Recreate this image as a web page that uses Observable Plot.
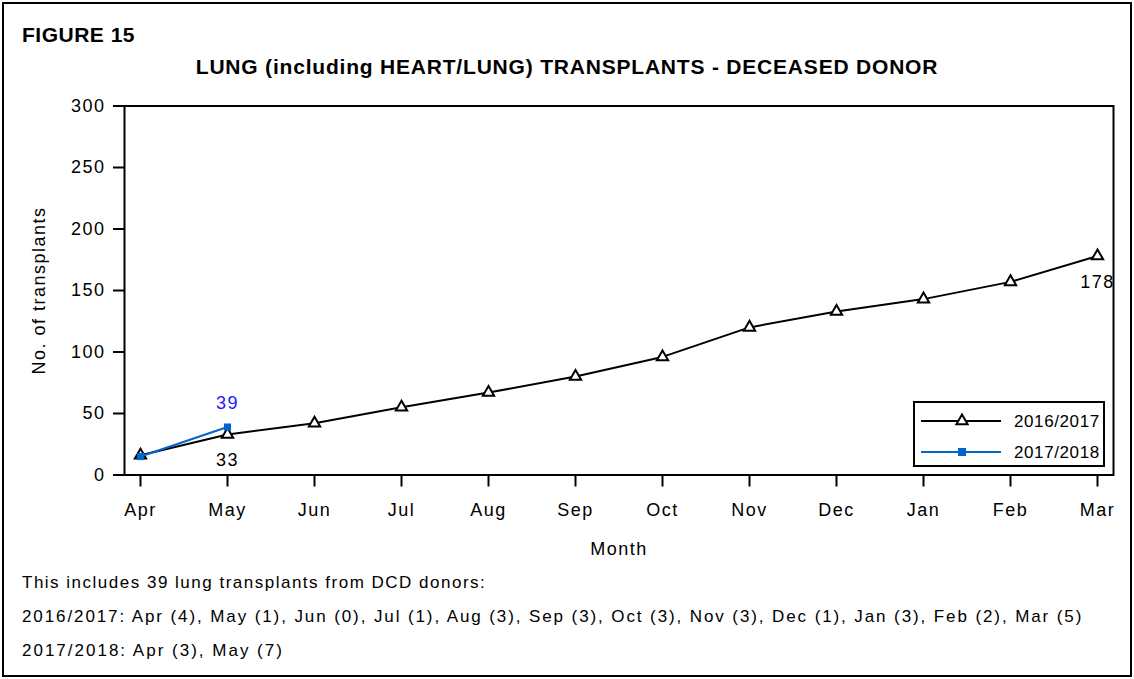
<!DOCTYPE html>
<html>
<head>
<meta charset="utf-8">
<script src="https://cdn.jsdelivr.net/npm/d3@7"></script>
<script src="https://cdn.jsdelivr.net/npm/@observablehq/plot@0.6"></script>
<style>
  html, body { margin: 0; padding: 0; background: #fff; }
  body { width: 1134px; height: 679px; overflow: hidden; font-family: "Liberation Sans", Arial, sans-serif; }
  #wrap { position: relative; width: 1134px; height: 679px; }
  #border { position: absolute; left: 2px; top: 2px; width: 1130px; height: 675px; border: 2px solid #000; box-sizing: border-box; }
  #fig { position: absolute; left: 22px; top: 23px; font-weight: bold; font-size: 21px; letter-spacing: 0.5px; }
  #title { position: absolute; left: 0; width: 1134px; top: 55px; text-align: center; font-weight: bold; font-size: 21px; letter-spacing: 0.8px; }
  #chart { position: absolute; left: 0; top: 0; }
  #legend { position: absolute; left: 913px; top: 401px; width: 192px; height: 66px; border: 2px solid #000; box-sizing: border-box; background: #fff; }
  #legend svg { position: absolute; left: 0; top: 0; }
  .caption { position: absolute; left: 22px; font-size: 17px; letter-spacing: 1.8px; white-space: nowrap; }
</style>
</head>
<body>
<div id="wrap">
  <div id="chart"></div>
  <div id="border"></div>
  <div id="fig">FIGURE 15</div>
  <div id="title">LUNG (including HEART/LUNG) TRANSPLANTS - DECEASED DONOR</div>
  <div id="legend"></div>
  <div class="caption" id="cap1" style="top:573px; letter-spacing:1.5px">This includes 39 lung transplants from DCD donors:</div>
  <div class="caption" id="cap2" style="top:607px; letter-spacing:1.9px">2016/2017: Apr (4), May (1), Jun (0), Jul (1), Aug (3), Sep (3), Oct (3), Nov (3), Dec (1), Jan (3), Feb (2), Mar (5)</div>
  <div class="caption" id="cap3" style="top:641px; letter-spacing:2px">2017/2018: Apr (3), May (7)</div>
</div>
<script>
// ---- data ----
const months = ["Apr", "May", "Jun", "Jul", "Aug", "Sep", "Oct", "Nov", "Dec", "Jan", "Feb", "Mar"];
const series2016 = [16, 33, 42, 55, 67, 80, 96, 120, 133, 143, 157, 178];
const series2017 = [15, 39];
const yTicks = [0, 50, 100, 150, 200, 250, 300];
const seriesNames = ["2016/2017", "2017/2018"];
const labels2016 = [{month: "May", value: 33}, {month: "Mar", value: 178}];
const labels2017 = [{month: "May", value: 39}];

const black = "#000000";
const blue = "#0066CC";
const labelBlue = "#1a1aff";

const d2016 = months.map((m, i) => ({month: m, value: series2016[i]}));
const d2017 = series2017.map((v, i) => ({month: months[i], value: v}));

const H = 570;
const chart = Plot.plot({
  width: 1134,
  height: H,
  marginLeft: 124,
  marginRight: 21,
  marginTop: 105.5,
  marginBottom: H - 474.5,
  style: {fontFamily: "'Liberation Sans', Arial, sans-serif", fontSize: "18px", letterSpacing: "1.5px", color: "#000", background: "transparent", overflow: "visible"},
  x: {type: "point", domain: months, padding: 0.143},
  y: {domain: [0, 300]},
  marks: [
    Plot.frame({stroke: black, strokeWidth: 2}),
    Plot.axisX({ticks: months, tickSize: 12, tickPadding: 16, strokeWidth: 2, label: "Month", labelAnchor: "center", labelArrow: "none", labelOffset: 80, fontSize: 18}),
    Plot.axisY({ticks: yTicks, tickSize: 11, tickPadding: 8, strokeWidth: 2, label: "No. of transplants", labelAnchor: "center", labelArrow: "none", labelOffset: 92, fontSize: 18}),
    Plot.line(d2016, {x: "month", y: "value", stroke: black, strokeWidth: 2}),
    Plot.dot(d2016, {x: "month", y: "value", symbol: "triangle", r: 4.2, stroke: black, strokeWidth: 2, fill: "white"}),
    Plot.line(d2017, {x: "month", y: "value", stroke: blue, strokeWidth: 2}),
    Plot.dot(d2017, {x: "month", y: "value", symbol: "square", r: 4, fill: blue, stroke: "none"}),
    Plot.text(labels2016, {x: "month", y: "value", text: d => String(d.value), dy: 26, fill: black, fontSize: 18}),
    Plot.text(labels2017, {x: "month", y: "value", text: d => String(d.value), dy: -24, fill: labelBlue, fontSize: 18})
  ]
});
document.getElementById("chart").appendChild(chart);

// legend
const lg = d3.select("#legend").append("svg").attr("width", 192).attr("height", 66);
const legendColors = [black, blue];
seriesNames.forEach((name, i) => {
  const y = 18 + i * 31;
  lg.append("line").attr("x1", 6).attr("x2", 86).attr("y1", y).attr("y2", y)
    .attr("stroke", legendColors[i]).attr("stroke-width", 2);
  if (i === 0) {
    lg.append("path").attr("d", d3.symbol(d3.symbolTriangle, 55)())
      .attr("transform", `translate(47,${y})`).attr("fill", "white").attr("stroke", black).attr("stroke-width", 2);
  } else {
    lg.append("rect").attr("x", 43).attr("y", y - 4).attr("width", 8).attr("height", 8).attr("fill", blue);
  }
  lg.append("text").attr("x", 99).attr("y", y).attr("dy", "0.35em")
    .attr("font-size", 17).attr("letter-spacing", "0.6px")
    .attr("font-family", "'Liberation Sans', Arial, sans-serif").text(name);
});
</script>
</body>
</html>
